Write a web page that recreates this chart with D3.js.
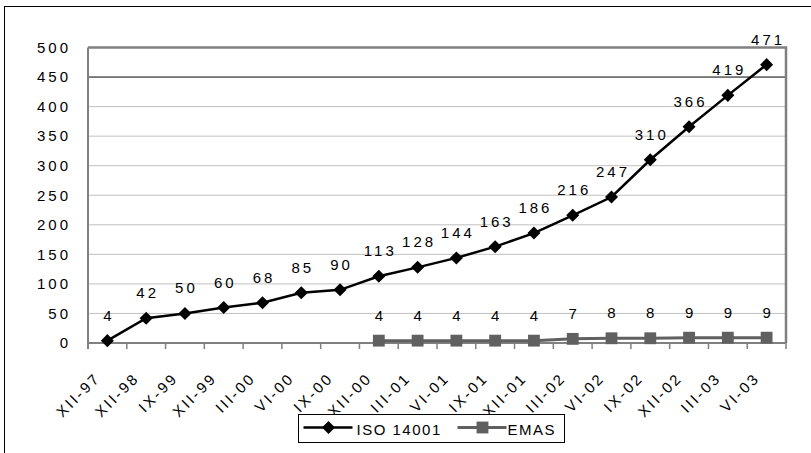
<!DOCTYPE html>
<html>
<head>
<meta charset="utf-8">
<script src="https://cdn.jsdelivr.net/npm/d3@7"></script>
<style>
  body { margin: 0; background: #fff; }
  svg { display: block; font-family: "Liberation Sans", Arial, sans-serif; }
</style>
</head>
<body>
<svg></svg>
<script>
const categories = ['XII-97', 'XII-98', 'IX-99', 'XII-99', 'III-00', 'VI-00', 'IX-00', 'XII-00', 'III-01',
	'VI-01', 'IX-01', 'XII-01', 'III-02', 'VI-02', 'IX-02', 'XII-02', 'III-03', 'VI-03'];
const isoValues = [4, 42, 50, 60, 68, 85, 90, 113, 128, 144, 163, 186, 216, 247, 310, 366, 419, 471];
const emasValues = [null, null, null, null, null, null, null, 4, 4, 4, 4, 4, 7, 8, 8, 9, 9, 9];
const yTicks = [0, 50, 100, 150, 200, 250, 300, 350, 400, 450, 500];
const seriesNames = ['ISO 14001', 'EMAS'];

const width = 811;
const height = 453;

const plot = { left: 88, right: 786, top: 47.5, bottom: 343 };
const fontFamily = '"Liberation Sans", Arial, sans-serif';

const svg = d3.select('svg')
	.attr('width', width)
	.attr('height', height);

// outer chart border (runs off the right / bottom edge)
svg.append('rect')
	.attr('x', 4.5)
	.attr('y', 6.5)
	.attr('width', 830)
	.attr('height', 470)
	.attr('fill', 'none')
	.attr('stroke', '#000');

const x = d3.scaleBand()
	.domain(categories)
	.range([plot.left, plot.right]);

const y = d3.scaleLinear()
	.domain([0, 500])
	.range([plot.bottom, plot.top]);

const cx = d => x(d) + x.bandwidth() / 2;

// gridlines
svg.append('g')
	.selectAll('line')
	.data(yTicks.filter(v => v > 0 && v < 500))
	.enter()
	.append('line')
	.attr('x1', plot.left)
	.attr('x2', plot.right)
	.attr('y1', d => y(d))
	.attr('y2', d => y(d))
	.attr('stroke', d => d === 450 ? '#000' : '#c0c0c0')
	.attr('stroke-width', 1);

// plot frame: top and right
svg.append('path')
	.attr('d', `M${plot.left},${y(500)}H${plot.right}V${plot.bottom}`)
	.attr('fill', 'none')
	.attr('stroke', '#808080')
	.attr('stroke-width', 2.5);

// y axis
const yAxis = d3.axisLeft(y)
	.tickValues(yTicks)
	.tickSize(0)
	.tickPadding(17);

const yG = svg.append('g')
	.attr('transform', `translate(${plot.left}, 0)`)
	.call(yAxis);
yG.select('.domain')
	.attr('stroke', '#808080')
	.attr('stroke-width', 2)
	.attr('d', `M0,${plot.top}V${plot.bottom + 6}`);
yG.selectAll('text')
	.attr('font-size', 15)
	.attr('font-family', fontFamily)
	.attr('letter-spacing', 3)
	.attr('fill', '#000');

// x axis
const xAxis = d3.axisBottom(x)
	.tickSize(0);

const xG = svg.append('g')
	.attr('transform', `translate(0, ${plot.bottom})`)
	.call(xAxis);
xG.select('.domain')
	.attr('stroke', '#808080')
	.attr('stroke-width', 2)
	.attr('d', `M${plot.left},0H${plot.right}`);
xG.selectAll('text')
	.attr('font-size', 15)
	.attr('font-family', fontFamily)
	.attr('letter-spacing', 2.5)
	.attr('fill', '#000')
	.attr('x', 0)
	.attr('y', 0)
	.attr('dy', 0)
	.attr('text-anchor', 'end')
	.attr('transform', 'translate(-6, 36) rotate(-45)');

// tick marks between categories
xG.selectAll('.sep')
	.data(categories.map(c => x(c)).concat([plot.right]))
	.enter()
	.append('line')
	.attr('class', 'sep')
	.attr('x1', d => d)
	.attr('x2', d => d)
	.attr('y1', 0)
	.attr('y2', 6)
	.attr('stroke', '#808080')
	.attr('stroke-width', 1.5);

const line = d3.line()
	.defined(d => d.v !== null)
	.x(d => cx(d.c))
	.y(d => y(d.v));

const isoData = categories.map((c, i) => ({ c, v: isoValues[i] }));
const emasData = categories.map((c, i) => ({ c, v: emasValues[i] })).filter(d => d.v !== null);

const diamond = d3.symbol().type(d3.symbolSquare).size(85);
const square = d3.symbol().type(d3.symbolSquare).size(140);

// EMAS series
svg.append('path')
	.datum(emasData)
	.attr('d', line)
	.attr('fill', 'none')
	.attr('stroke', '#606060')
	.attr('stroke-width', 3);

svg.append('g')
	.selectAll('path')
	.data(emasData)
	.enter()
	.append('path')
	.attr('d', square)
	.attr('transform', d => `translate(${cx(d.c)}, ${y(d.v)})`)
	.attr('fill', '#606060');

// ISO series
svg.append('path')
	.datum(isoData)
	.attr('d', line)
	.attr('fill', 'none')
	.attr('stroke', '#000')
	.attr('stroke-width', 2.5);

svg.append('g')
	.selectAll('path')
	.data(isoData)
	.enter()
	.append('path')
	.attr('d', diamond)
	.attr('transform', d => `translate(${cx(d.c)}, ${y(d.v)}) rotate(45)`)
	.attr('fill', '#000');

// data labels
const labelData = isoData.concat(emasData);
svg.append('g')
	.selectAll('text')
	.data(labelData)
	.enter()
	.append('text')
	.attr('x', d => cx(d.c) + 1.5)
	.attr('y', d => y(d.v) - 20)
	.attr('text-anchor', 'middle')
	.attr('font-size', 15)
	.attr('letter-spacing', 3)
	.text(d => d.v);

// legend
const legend = svg.append('g')
	.attr('transform', 'translate(298.5, 414.5)');

legend.append('rect')
	.attr('width', 266)
	.attr('height', 28)
	.attr('fill', '#fff')
	.attr('stroke', '#000');

const items = [
	{ name: seriesNames[0], x0: 5, color: '#000', sym: diamond, rot: 45, sw: 2.5, tx: 58 },
	{ name: seriesNames[1], x0: 159, color: '#606060', sym: square, rot: 0, sw: 3, tx: 209 }
];

items.forEach(it => {
	legend.append('line')
		.attr('x1', it.x0)
		.attr('x2', it.x0 + 49)
		.attr('y1', 13)
		.attr('y2', 13)
		.attr('stroke', it.color)
		.attr('stroke-width', it.sw);
	legend.append('path')
		.attr('d', it.sym)
		.attr('transform', `translate(${it.x0 + 25}, 13) rotate(${it.rot})`)
		.attr('fill', it.color);
	legend.append('text')
		.attr('x', it.tx)
		.attr('y', 20)
		.attr('font-size', 15)
		.attr('letter-spacing', 1.5)
		.text(it.name);
});
</script>
</body>
</html>
